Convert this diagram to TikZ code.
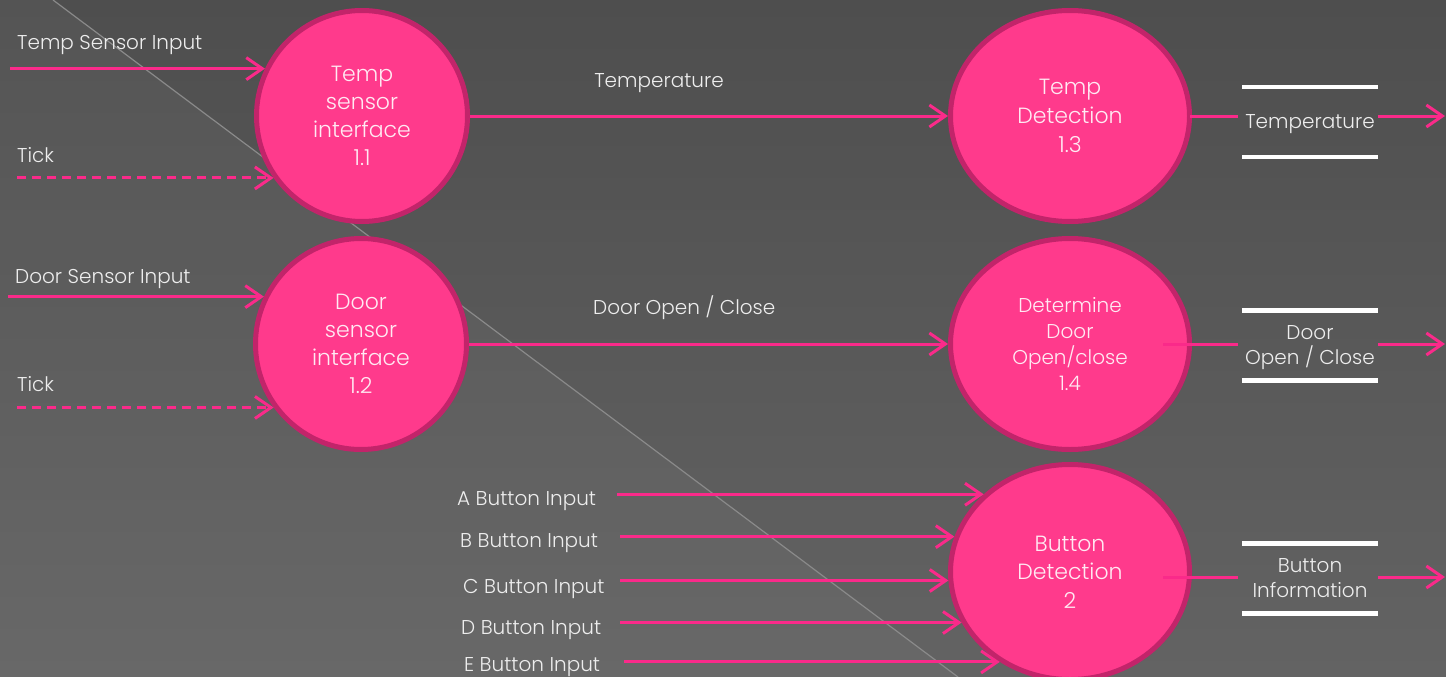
\documentclass[tikz,border=0pt]{standalone}
\usepackage{fontspec}
\IfFontExistsTF{Poppins Light}{\setmainfont{Poppins Light}}{\setmainfont{Poppins}}
\usetikzlibrary{shapes.geometric,arrows.meta}
\definecolor{bgtop}{HTML}{4E4E4E}
\definecolor{bgbot}{HTML}{636363}
\definecolor{diag}{HTML}{8A8A8A}
\definecolor{pfill}{HTML}{FF3A8C}
\definecolor{pborder}{HTML}{C2246A}
\definecolor{ptext}{HTML}{FFEAF3}
\definecolor{pline}{HTML}{FA2A8A}
\definecolor{ltext}{HTML}{EDEDED}
\begin{document}
\begin{tikzpicture}[x=1pt,y=-1pt,
  proc/.style={ellipse, draw=pborder, line width=5pt, fill=pfill, text=ptext,
    align=center, inner sep=0pt, font=\fontsize{22}{28}\selectfont},
  flow/.style={draw=pline, line width=3pt, -{Straight Barb[length=16pt,width=22pt]}},
  tickflow/.style={flow, dash pattern=on 9pt off 6pt},
  plain/.style={draw=pline, line width=3pt},
  lbl/.style={text=ltext, font=\fontsize{20}{25}\selectfont, inner sep=0pt},
  storelbl/.style={lbl, align=center, text depth=0pt, minimum width=136pt, minimum height=70pt},
  bar/.style={draw=white, line width=4.5pt},
]
\useasboundingbox (0,0) rectangle (1446,677);
% background
\shade[top color=bgtop, bottom color=bgbot] (0,0) rectangle (1446,677);
\fill[white, opacity=0.035] (53,0) -- (958,677) -- (0,677) -- (0,0) -- cycle;
\draw[diag, line width=1.2pt] (53,0) -- (958,677);

% processes
\node[proc, minimum width=211pt, minimum height=211pt] (c11) at (362,116) {Temp\\sensor\\interface\\1.1};
\node[proc, minimum width=211pt, minimum height=211pt] (c12) at (361,344) {Door\\sensor\\interface\\1.2};
\node[proc, minimum width=239pt, minimum height=211pt, font=\fontsize{22}{29}\selectfont] (c13) at (1070,116) {Temp\\Detection\\1.3};
\node[proc, minimum width=239pt, minimum height=211pt, font=\fontsize{20}{25.7}\selectfont] (c14) at (1070,344) {Determine\\Door\\Open/close\\1.4};
\node[proc, minimum width=239pt, minimum height=215pt, font=\fontsize{22}{28.5}\selectfont] (c2) at (1070,572) {Button\\Detection\\2};

% left free ends
\coordinate (L0) at (10,0);
\coordinate (L1) at (17,0);
\coordinate (L2) at (8,0);
\coordinate (R) at (1445,0);

% left inputs
\node[lbl, anchor=base west] (tsil) at (17,50) {Temp Sensor Input};
\draw[flow] (c11.154 -| L0) -- (c11.154);
\node[lbl, anchor=base west] (tk1l) at (17,162) {Tick};
\draw[tickflow] (c11.215 -| L1) -- (c11.215);
\node[lbl, anchor=base west] (dsil) at (15,283) {Door Sensor Input};
\draw[flow] (c12.154 -| L2) -- (c12.154);
\node[lbl, anchor=base west] (tk2l) at (17,391) {Tick};
\draw[tickflow] (c12.216 -| L1) -- (c12.216);

% middle flows
\draw[flow] (c11.east) -- (c13.west);
\node[lbl, anchor=base] (tl) at (659,88) {Temperature};
\draw[flow] (c12.east) -- (c14.west);
\node[lbl, anchor=base west] (dl) at (593,314) {Door Open / Close};

% button inputs
\node[lbl, anchor=base west] (al) at (457,505) {A Button Input};
\node[lbl, anchor=base west] (bl) at (460,547) {B Button Input};
\node[lbl, anchor=base west] (cl) at (463,593) {C Button Input};
\node[lbl, anchor=base west] (dl2) at (461,634) {D Button Input};
\node[lbl, anchor=base west] (el) at (464,671) {E Button Input};
\coordinate (SA) at (617,0);
\coordinate (SB) at (620,0);
\coordinate (SE) at (624,0);
\draw[flow] (c2.138.5 -| SA) -- (c2.138.5);
\draw[flow] (c2.163.2 -| SB) -- (c2.163.2);
\draw[flow] (c2.184.7 -| SB) -- (c2.184.7);
\draw[flow] (c2.205.8 -| SB) -- (c2.205.8);
\draw[flow] (c2.232.1 -| SE) -- (c2.232.1);

% data stores
\node[storelbl] (st1) at (1310,122) {Temperature};
\node[storelbl] (st2) at (1310,345.5) {Door\\Open / Close};
\node[storelbl] (st3) at (1310,578.5) {Button\\Information};
\foreach \s in {st1,st2,st3}{
  \draw[bar] (\s.north west) -- (\s.north east);
  \draw[bar] (\s.south west) -- (\s.south east);
}

% outputs
\coordinate (o1) at ([xshift=-2pt]c13.east);
\coordinate (o2) at ([xshift=-29pt]c14.east);
\coordinate (o3) at ([shift={(-29pt,-5pt)}]c2.east);
\draw[plain, shorten >=4pt] (o1) -- (o1 -| st1.west);
\draw[flow] (o1 -| st1.east) -- (o1 -| R);
\draw[plain, shorten >=4pt] (o2) -- (o2 -| st2.west);
\draw[flow] (o2 -| st2.east) -- (o2 -| R);
\draw[plain, shorten >=4pt] (o3) -- (o3 -| st3.west);
\draw[flow] (o3 -| st3.east) -- (o3 -| R);
\end{tikzpicture}
\end{document}
